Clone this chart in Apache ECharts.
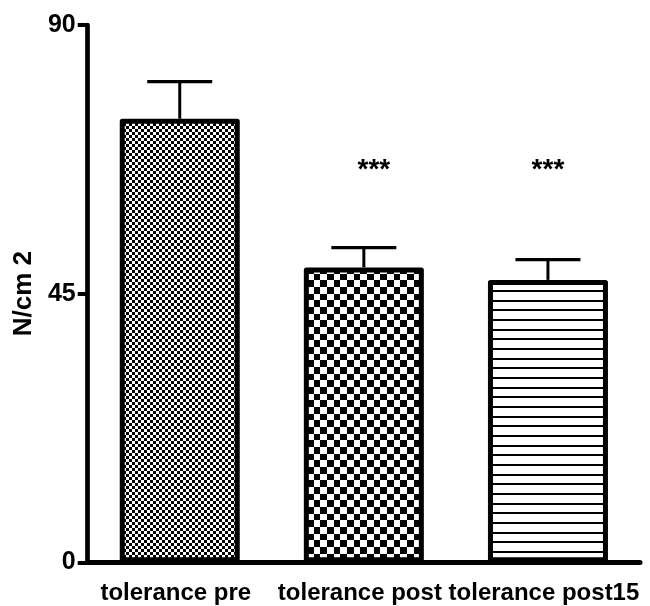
<!DOCTYPE html>
<html>
<head>
<meta charset="utf-8">
<script src="https://cdn.jsdelivr.net/npm/echarts@6/dist/echarts.min.js"></script>
<style>
  html, body { margin: 0; padding: 0; background: #fff; }
  #chart { width: 650px; height: 606px; }
</style>
</head>
<body>
<div id="chart"></div>
<script>
// Pain tolerance (N/cm2), mean with SEM, before and after treatment
const categories = ['tolerance pre', 'tolerance post', 'tolerance post15'];
const means = [74.3, 49.4, 47.3];
const sems = [6.2, 3.3, 3.4];
const significance = ['', '***', '***'];
const yTicks = [0, 45, 90];

const FONT = "'Liberation Sans', Arial, Helvetica, sans-serif";

// Fill patterns: fine checker, coarse checker, horizontal lines
function makeChecker(cells) {
  const size = cells.reduce((a, b) => a + b, 0);
  const c = document.createElement('canvas');
  c.width = size; c.height = size;
  const ctx = c.getContext('2d');
  ctx.fillStyle = '#fff';
  ctx.fillRect(0, 0, size, size);
  ctx.fillStyle = '#000';
  let y = 0;
  cells.forEach((h, r) => {
    let x = 0;
    cells.forEach((w, k) => {
      if ((r + k) % 2 === 0) ctx.fillRect(x, y, w, h);
      x += w;
    });
    y += h;
  });
  return c;
}
function makeLines(gaps, thickness) {
  const size = gaps.reduce((a, b) => a + b, 0);
  const c = document.createElement('canvas');
  c.width = 8; c.height = size;
  const ctx = c.getContext('2d');
  ctx.fillStyle = '#fff';
  ctx.fillRect(0, 0, 8, size);
  ctx.fillStyle = '#000';
  let y = 0;
  gaps.forEach(g => { ctx.fillRect(0, y, 8, thickness); y += g; });
  return c;
}
const fills = [
  { image: makeChecker([3, 3]), repeat: 'repeat' },
  { image: makeChecker([7, 7, 6, 7, 7, 6]), repeat: 'repeat' },
  { image: makeLines([10, 9, 10], 2), repeat: 'repeat' }
];

const barData = means.map((m, i) => ({
  value: m,
  itemStyle: { color: fills[i] }
}));
const errData = means.map((m, i) => [i, m, m + sems[i]]);
const SIG_LEVEL = 65.6;
const sigData = significance.map((s, i) => [i, SIG_LEVEL, s]);
const sigNudge = [0, 10, 0];

const chart = echarts.init(document.getElementById('chart'), null, { renderer: 'canvas' });
chart.setOption({
  animation: false,
  backgroundColor: '#fff',
  grid: { left: 87.7, right: 10, top: 25, bottom: 43.7, containLabel: false },
  xAxis: {
    type: 'category',
    data: categories,
    axisLine: { lineStyle: { color: '#000', width: 5 } },
    axisTick: { alignWithLabel: true, length: 11, lineStyle: { color: '#000', width: 4 } },
    axisLabel: {
      color: '#000', fontFamily: FONT, fontWeight: 'bold', fontSize: 24,
      margin: 19, padding: [0, 8, 0, 0], interval: 0
    }
  },
  yAxis: {
    type: 'value',
    min: yTicks[0],
    max: yTicks[yTicks.length - 1],
    interval: yTicks[1] - yTicks[0],
    name: 'N/cm 2',
    nameLocation: 'middle',
    nameGap: 51,
    nameTextStyle: { color: '#000', fontFamily: FONT, fontWeight: 'bold', fontSize: 26 },
    axisLine: { show: true, lineStyle: { color: '#000', width: 4.7 } },
    axisTick: { show: true, length: 10, lineStyle: { color: '#000', width: 4 } },
    axisLabel: { color: '#000', fontFamily: FONT, fontWeight: 'bold', fontSize: 25, margin: 12 },
    splitLine: { show: false }
  },
  series: [
    {
      type: 'custom',
      name: 'SEM',
      z: 1,
      data: errData,
      renderItem: function (params, api) {
        const base = api.coord([api.value(0), api.value(1)]);
        const top = api.coord([api.value(0), api.value(2)]);
        return {
          type: 'group',
          children: [
            { type: 'line', shape: { x1: base[0], y1: base[1], x2: base[0], y2: top[1] },
              style: { stroke: '#000', lineWidth: 3 } },
            { type: 'line', shape: { x1: base[0] - 32.5, y1: top[1], x2: base[0] + 32.5, y2: top[1] },
              style: { stroke: '#000', lineWidth: 3.3 } }
          ]
        };
      }
    },
    {
      type: 'bar',
      name: 'mean',
      z: 2,
      barWidth: 120,
      data: barData,
      itemStyle: { borderColor: '#000', borderWidth: 5, borderJoin: 'round' }
    },
    {
      type: 'custom',
      name: 'significance',
      z: 3,
      data: sigData,
      renderItem: function (params, api) {
        const p = api.coord([api.value(0), api.value(1)]);
        const i = params.dataIndex;
        return {
          type: 'text',
          x: p[0] + sigNudge[i],
          y: p[1],
          style: {
            text: significance[i],
            fill: '#000',
            font: 'bold 28px ' + FONT,
            align: 'center',
            verticalAlign: 'middle'
          }
        };
      }
    }
  ]
});
</script>
</body>
</html>
